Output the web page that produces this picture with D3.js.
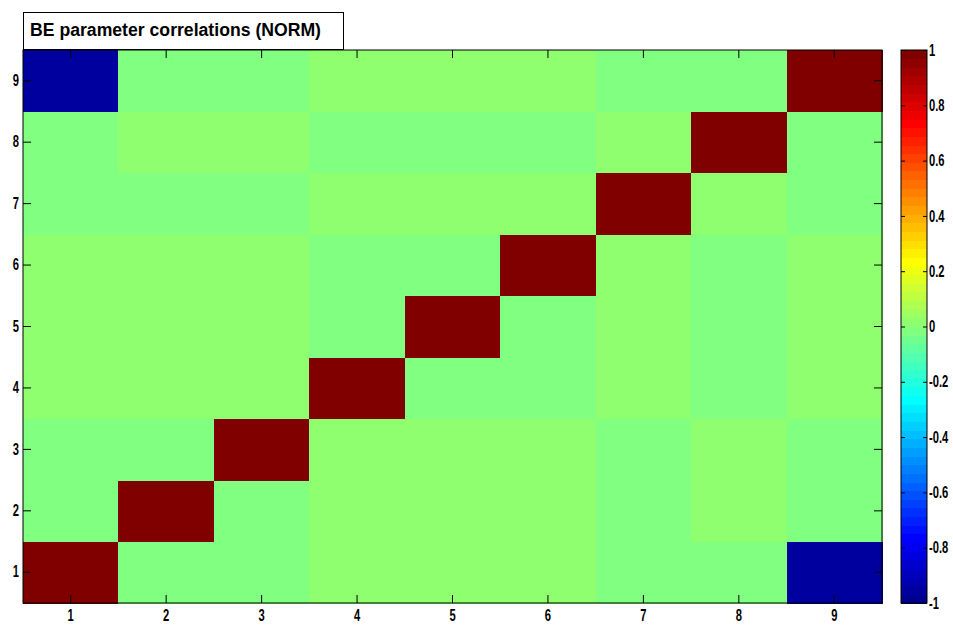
<!DOCTYPE html>
<html>
<head>
<meta charset="utf-8">
<script src="https://cdn.jsdelivr.net/npm/d3@7"></script>
<style>
  html, body { margin: 0; padding: 0; background: #fff; }
  svg { display: block; }
  .tick text { font-family: "Liberation Sans", Arial, sans-serif; font-weight: bold; font-size: 16px; fill: #000; }
</style>
</head>
<body>
<svg id="chart" width="953" height="625"></svg>
<script>
// Parameter indices along both axes
const params = [1, 2, 3, 4, 5, 6, 7, 8, 9];

// Correlation matrix, one row per parameter (row 1 first)
const row1 = [ 1.00, -0.01, -0.01,  0.01,  0.01,  0.01, -0.01, -0.01, -0.95];
const row2 = [-0.01,  1.00, -0.01,  0.01,  0.01,  0.01, -0.01,  0.01, -0.01];
const row3 = [-0.01, -0.01,  1.00,  0.01,  0.01,  0.01, -0.01,  0.01, -0.01];
const row4 = [ 0.01,  0.01,  0.01,  1.00, -0.01, -0.01,  0.01, -0.01,  0.01];
const row5 = [ 0.01,  0.01,  0.01, -0.01,  1.00, -0.01,  0.01, -0.01,  0.01];
const row6 = [ 0.01,  0.01,  0.01, -0.01, -0.01,  1.00,  0.01, -0.01,  0.01];
const row7 = [-0.01, -0.01, -0.01,  0.01,  0.01,  0.01,  1.00,  0.01, -0.01];
const row8 = [-0.01,  0.01,  0.01, -0.01, -0.01, -0.01,  0.01,  1.00, -0.01];
const row9 = [-0.95, -0.01, -0.01,  0.01,  0.01,  0.01, -0.01, -0.01,  1.00];
const rows = [row1, row2, row3, row4, row5, row6, row7, row8, row9];

// Colour bar ticks
const cbTicks = [-1, -0.8, -0.6, -0.4, -0.2, 0, 0.2, 0.4, 0.6, 0.8, 1];
const cbTickLabels = ["-1", "-0.8", "-0.6", "-0.4", "-0.2", "0", "0.2", "0.4", "0.6", "0.8", "1"];

const titleText = "BE parameter correlations (NORM)";

// 64-step jet colormap
function jetMap(m) {
  const n = Math.ceil(m / 4);
  const u = [];
  for (let i = 1; i <= n; i++) u.push(i / n);
  for (let i = 1; i < n; i++) u.push(1);
  for (let i = n; i >= 1; i--) u.push(i / n);
  const g0 = Math.ceil(n / 2) - (m % 4 === 1 ? 1 : 0);
  const r = new Array(m).fill(0), g = new Array(m).fill(0), b = new Array(m).fill(0);
  u.forEach((val, i) => {
    const gi = g0 + i + 1, ri = gi + n, bi = gi - n;
    if (gi >= 1 && gi <= m) g[gi - 1] = val;
    if (ri >= 1 && ri <= m) r[ri - 1] = val;
    if (bi >= 1 && bi <= m) b[bi - 1] = val;
  });
  return d3.range(m).map(i => d3.rgb(Math.round(r[i] * 255), Math.round(g[i] * 255), Math.round(b[i] * 255)).formatHex());
}
const jet = jetMap(64);
const color = d3.scaleQuantize().domain([-1, 1]).range(jet);

const svg = d3.select("#chart");
const plotL = 23, plotR = 882, plotT = 50, plotB = 603;

const x = d3.scaleBand().domain(params).range([plotL, plotR]).padding(0);
const y = d3.scaleBand().domain(params).range([plotB, plotT]).padding(0);

const cells = [];
rows.forEach((r, i) => r.forEach((v, j) => cells.push({ row: params[i], col: params[j], v })));

svg.append("g").selectAll("rect").data(cells).join("rect")
  .attr("x", d => x(d.col))
  .attr("y", d => y(d.row))
  .attr("width", x.bandwidth() + 0.5)
  .attr("height", y.bandwidth() + 0.5)
  .attr("fill", d => color(d.v))
  .attr("shape-rendering", "crispEdges");

// Axes with inward ticks on all four sides
const tl = 8;
svg.append("g").attr("transform", `translate(0,${plotB})`)
  .call(d3.axisBottom(x).tickSize(-tl).tickPadding(7))
  .call(g => g.select(".domain").remove());
svg.append("g").attr("transform", `translate(0,${plotT})`)
  .call(d3.axisTop(x).tickSize(-tl).tickFormat(""))
  .call(g => g.select(".domain").remove());
svg.append("g").attr("transform", `translate(${plotL},0)`)
  .call(d3.axisLeft(y).tickSize(-tl).tickPadding(4))
  .call(g => g.select(".domain").remove());
svg.append("g").attr("transform", `translate(${plotR},0)`)
  .call(d3.axisRight(y).tickSize(-tl).tickFormat(""))
  .call(g => g.select(".domain").remove());

svg.append("rect")
  .attr("x", plotL).attr("y", plotT)
  .attr("width", plotR - plotL).attr("height", plotB - plotT)
  .attr("fill", "none").attr("stroke", "#000").attr("stroke-width", 1);

// Colour bar
const cbLeft = 901, cbRight = 927;
const cbY = d3.scaleLinear().domain([-1, 1]).range([plotB, plotT]);
const step = 2 / jet.length;
svg.append("g").selectAll("rect").data(jet).join("rect")
  .attr("x", cbLeft)
  .attr("y", (c, i) => cbY(-1 + (i + 1) * step))
  .attr("width", cbRight - cbLeft)
  .attr("height", (c, i) => cbY(-1 + i * step) - cbY(-1 + (i + 1) * step) + 0.5)
  .attr("fill", c => c)
  .attr("shape-rendering", "crispEdges");

const cbAxis = d3.axisRight(cbY).tickValues(cbTicks)
  .tickFormat((d, i) => cbTickLabels[i]).tickSize(-4).tickPadding(2);
svg.append("g").attr("transform", `translate(${cbRight},0)`)
  .call(cbAxis)
  .call(g => g.select(".domain").remove());
svg.append("g").attr("transform", `translate(${cbLeft},0)`)
  .call(d3.axisLeft(cbY).tickValues(cbTicks).tickSize(-4).tickFormat(""))
  .call(g => g.select(".domain").remove());
svg.selectAll(".tick line").attr("stroke", "#000");
svg.append("rect")
  .attr("x", cbLeft).attr("y", plotT)
  .attr("width", cbRight - cbLeft).attr("height", plotB - plotT)
  .attr("fill", "none").attr("stroke", "#000").attr("stroke-width", 1);

// Narrow the bold tick labels horizontally
const squeeze = 0.7;
svg.selectAll(".tick text").each(function () {
  const t = d3.select(this);
  const x0 = +t.attr("x") || 0;
  t.attr("x", x0 / squeeze).attr("transform", `scale(${squeeze},1)`);
});

// Title box
svg.append("rect")
  .attr("x", 23.5).attr("y", 12.5).attr("width", 320).attr("height", 37)
  .attr("fill", "#fff").attr("stroke", "#000").attr("stroke-width", 1);
svg.append("text")
  .attr("x", 30).attr("y", 36)
  .attr("font-family", "'Liberation Sans', Arial, sans-serif")
  .attr("font-weight", "bold")
  .attr("font-size", 18)
  .attr("textLength", 291)
  .attr("lengthAdjust", "spacingAndGlyphs")
  .text(titleText);
</script>
</body>
</html>
